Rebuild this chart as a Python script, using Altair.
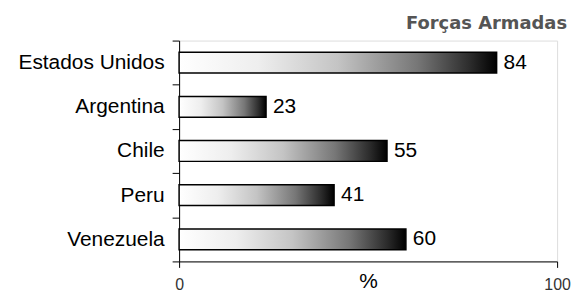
import altair as alt
import pandas as pd

countries = ["Estados Unidos", "Argentina", "Chile", "Peru", "Venezuela"]
values = [84, 23, 55, 41, 60]
x_ticks = [0, 100]
title_text = ["Forças Armadas"]

df = pd.DataFrame({"pais": countries, "valor": values})
title_df = pd.DataFrame({"t": title_text})

gradient = alt.Gradient(
    gradient="linear",
    stops=[
        alt.GradientStop(color="#ffffff", offset=0),
        alt.GradientStop(color="#eeeeee", offset=0.25),
        alt.GradientStop(color="#c4c4c4", offset=0.5),
        alt.GradientStop(color="#777777", offset=0.75),
        alt.GradientStop(color="#2a2a2a", offset=0.92),
        alt.GradientStop(color="#000000", offset=1),
    ],
    x1=0, x2=1, y1=0, y2=0,
)

y_enc = alt.Y(
    "pais:N",
    sort=countries,
    scale=alt.Scale(paddingInner=0, paddingOuter=0),
    axis=alt.Axis(
        title=None,
        tickBand="extent",
        tickSize=7,
        labelPadding=8,
        labelFont="Liberation Sans",
        labelFontSize=21,
        labelColor="#000000",
        domainColor="#000000",
        tickColor="#000000",
        minExtent=172,
        maxExtent=172,
    ),
)

x_enc = alt.X(
    "valor:Q",
    scale=alt.Scale(domain=[0, 100]),
    axis=alt.Axis(
        values=x_ticks,
        grid=False,
        tickSize=6,
        labelPadding=9,
        labelFlush=False,
        labelFont="Liberation Sans",
        labelFontSize=16,
        labelColor="#333333",
        domainColor="#000000",
        tickColor="#000000",
        title="%",
        titleFont="Liberation Sans",
        titleFontSize=21,
        titleFontWeight="normal",
        titleColor="#000000",
        titleBaseline="top",
        titleY=9,
    ),
)

base = alt.Chart(df).encode(y=y_enc, x=x_enc)

bars = base.mark_bar(
    fill=gradient, stroke="#000000", strokeWidth=1.5, height=alt.RelativeBandSize(0.47)
)
labels = base.mark_text(
    align="left", baseline="middle", dx=7, fontSize=21, font="Liberation Sans", color="#000000"
).encode(text="valor:Q")

title = alt.Chart(title_df).mark_text(
    align="right",
    baseline="alphabetic",
    font="DejaVu Sans",
    fontSize=18,
    fontWeight="bold",
    color="#555555",
).encode(text="t:N", x=alt.value(390), y=alt.value(-12))

chart = (
    (bars + labels + title)
    .properties(
        width=380,
        height=222,
        autosize=alt.AutoSizeParams(type="none"),
        padding={"left": 172, "top": 32, "right": 20, "bottom": 30},
    )
    .configure_view(stroke=None)
    .configure(background="white")
)

chart.save("out.html", embed_options={"renderer": "svg", "actions": False})
